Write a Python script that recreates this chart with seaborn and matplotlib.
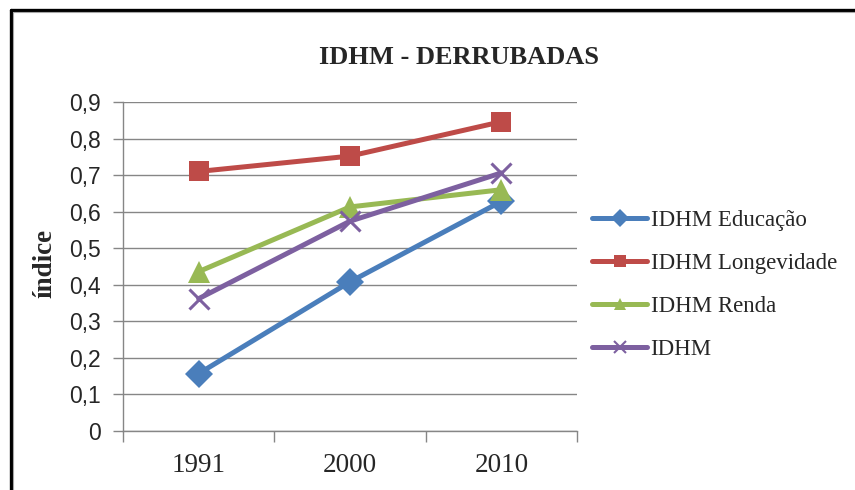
import matplotlib
matplotlib.use("Agg")
import matplotlib.pyplot as plt
from matplotlib.lines import Line2D
from matplotlib.ticker import FuncFormatter, FixedLocator
import pandas as pd
import seaborn as sns

# Data
anos = ["1991", "2000", "2010"]
series = ["IDHM Educação", "IDHM Longevidade", "IDHM Renda", "IDHM"]
educacao = [0.157, 0.408, 0.628]
longevidade = [0.710, 0.752, 0.846]
renda = [0.436, 0.613, 0.660]
idhm = [0.362, 0.574, 0.706]

cores = ["#4A7EBB", "#BE4B48", "#98B954", "#7D60A0"]
marcadores = ["D", "s", "^", "x"]
tamanhos = [14, 15, 16, 15]

df = pd.DataFrame({"ano": anos, series[0]: educacao, series[1]: longevidade,
                   series[2]: renda, series[3]: idhm})

sns.set_style("white")
serif = ["Liberation Serif", "DejaVu Serif"]
sans = ["Liberation Sans", "DejaVu Sans"]

fig = plt.figure(figsize=(8.55, 4.9), dpi=100)
ax = fig.add_axes([123 / 855, 1 - 431 / 490, 454 / 855, 329 / 490])

for nome, cor, m, ms in zip(series, cores, marcadores, tamanhos):
    sns.lineplot(data=df, x="ano", y=nome, color=cor, marker=m, linewidth=3.6,
                 markersize=ms, markeredgecolor=cor,
                 markeredgewidth=(2.2 if m == "x" else 0),
                 sort=False, ax=ax)

ax.set_xlim(-0.5, 2.5)
ax.set_ylim(0, 0.9)
ax.set_yticks([i / 10 for i in range(10)])
ax.yaxis.set_major_formatter(FuncFormatter(lambda v, p: "0" if v == 0 else f"{v:.1f}".replace(".", ",")))
ax.grid(axis="y", color="#868686", linewidth=1)
ax.set_axisbelow(True)
ax.set_xlabel("")
ax.set_ylabel("")

for s in ["top", "right"]:
    ax.spines[s].set_visible(False)
for s in ["left", "bottom"]:
    ax.spines[s].set_color("#868686")
    ax.spines[s].set_linewidth(1)

ax.tick_params(axis="y", length=7, width=1, color="#868686", direction="out", left=True, pad=9)
ax.tick_params(axis="x", which="major", length=0, pad=16)
ax.xaxis.set_minor_locator(FixedLocator([-0.5, 0.5, 1.5, 2.5]))
ax.tick_params(axis="x", which="minor", length=8, width=1, color="#868686", direction="out", bottom=True)

for lab in ax.get_yticklabels():
    lab.set_fontfamily(sans)
    lab.set_fontsize(16.5)
for lab in ax.get_xticklabels():
    lab.set_fontfamily(serif)
    lab.set_fontsize(19.5)

fig.text(459 / 855, 1 - 57 / 490, "IDHM - DERRUBADAS", ha="center", va="center",
         fontfamily=serif, fontweight="bold", fontsize=19)
fig.text(45 / 855, 1 - 263 / 490, "índice", ha="center", va="center", rotation=90,
         fontfamily=serif, fontweight="bold", fontsize=19.5)

handles = [
    Line2D([], [], color=c, marker=m, linewidth=3.6, markersize=9,
           markeredgecolor=c, markeredgewidth=(1.5 if m == "x" else 0))
    for c, m in zip(cores, marcadores)
]
fig.legend(handles, series, loc="upper left", bbox_to_anchor=(583 / 855, 1 - 201 / 490),
           frameon=False, prop={"family": serif, "size": 16.5}, handlelength=2.4,
           handletextpad=0.15, labelspacing=0.95, borderaxespad=0)

# frame around the figure, as in the reference (open on right and bottom)
fig.add_artist(Line2D([10.5 / 855, 10.5 / 855], [0, 1 - 10.5 / 490], transform=fig.transFigure,
                      color="black", linewidth=2.4))
fig.add_artist(Line2D([10.5 / 855, 1], [1 - 10.5 / 490, 1 - 10.5 / 490], transform=fig.transFigure,
                      color="black", linewidth=2.4))
fig.add_artist(Line2D([12.5 / 855, 12.5 / 855], [0, 1 - 12.5 / 490], transform=fig.transFigure,
                      color="#a6a6a6", linewidth=0.8))
fig.add_artist(Line2D([12.5 / 855, 1], [1 - 12.5 / 490, 1 - 12.5 / 490], transform=fig.transFigure,
                      color="#a6a6a6", linewidth=0.8))

fig.savefig("out.png", dpi=100)
